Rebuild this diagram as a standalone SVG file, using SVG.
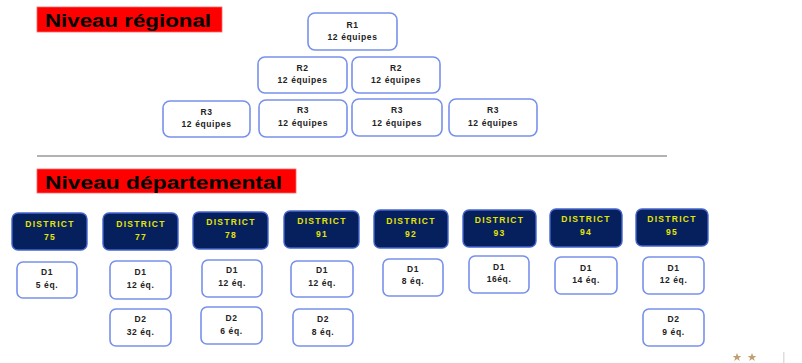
<svg xmlns="http://www.w3.org/2000/svg" width="802" height="363" viewBox="0 0 802 363">
<style>
.bg{fill:#ffffff}
.title{fill:#ff0000;stroke:#ff6666;stroke-width:0.8}
.tt{font-family:"Liberation Sans",Arial,sans-serif;font-weight:bold;font-size:18px;fill:#000}
.box{fill:#ffffff;stroke:#7791ea;stroke-width:1.6}
.dist{fill:#06205e;stroke:#4565cc;stroke-width:1.4}
.lbl{font-family:"Liberation Sans",Arial,sans-serif;font-weight:bold;font-size:8.5px;fill:#222;text-anchor:middle;letter-spacing:0.6px}
.dl{font-family:"Liberation Sans",Arial,sans-serif;font-weight:bold;font-size:8.5px;fill:#e6e600;text-anchor:middle;letter-spacing:1.3px}
.sep{stroke:#999;stroke-width:1.5}
.star{fill:#c0a070}
</style>
<rect class="bg" x="0" y="0" width="802" height="363"/>
<g id="title-regional">
<rect class="title" x="37" y="7" width="185" height="25"/>
<text class="tt" x="45" y="27" textLength="166" lengthAdjust="spacingAndGlyphs">Niveau régional</text>
</g>
<g id="R1"><rect class="box" x="308" y="13" width="89" height="37" rx="7"/><text class="lbl" x="352.5" y="28">R1</text><text class="lbl" x="352.5" y="40">12 équipes</text></g>
<g id="R2a"><rect class="box" x="258" y="57" width="89" height="36" rx="7"/><text class="lbl" x="302.5" y="71">R2</text><text class="lbl" x="302.5" y="83">12 équipes</text></g>
<g id="R2b"><rect class="box" x="352" y="57" width="88" height="36" rx="7"/><text class="lbl" x="396" y="71">R2</text><text class="lbl" x="396" y="83">12 équipes</text></g>
<g id="R3a"><rect class="box" x="163" y="101" width="87" height="36" rx="7"/><text class="lbl" x="206.5" y="115">R3</text><text class="lbl" x="206.5" y="127">12 équipes</text></g>
<g id="R3b"><rect class="box" x="259" y="100" width="88" height="37" rx="7"/><text class="lbl" x="303" y="113">R3</text><text class="lbl" x="303" y="126">12 équipes</text></g>
<g id="R3c"><rect class="box" x="352" y="99" width="90" height="37" rx="7"/><text class="lbl" x="397" y="113">R3</text><text class="lbl" x="397" y="126">12 équipes</text></g>
<g id="R3d"><rect class="box" x="449" y="99" width="88" height="37" rx="7"/><text class="lbl" x="493" y="113">R3</text><text class="lbl" x="493" y="126">12 équipes</text></g>
<line class="sep" x1="37" y1="156" x2="667" y2="156"/>
<g id="title-departemental">
<rect class="title" x="37" y="169" width="259" height="24"/>
<text class="tt" x="45" y="189" textLength="237" lengthAdjust="spacingAndGlyphs">Niveau départemental</text>
</g>
<g id="D75"><rect class="dist" x="12" y="213" width="75" height="37" rx="6"/><text class="dl" x="50" y="227">DISTRICT</text><text class="dl" x="50" y="240">75</text></g>
<g id="D77"><rect class="dist" x="103" y="213" width="75" height="37" rx="6"/><text class="dl" x="141" y="227">DISTRICT</text><text class="dl" x="141" y="240">77</text></g>
<g id="D78"><rect class="dist" x="193" y="212" width="75" height="37" rx="6"/><text class="dl" x="231" y="225">DISTRICT</text><text class="dl" x="231" y="238">78</text></g>
<g id="D91"><rect class="dist" x="284" y="211" width="75" height="37" rx="6"/><text class="dl" x="322" y="224">DISTRICT</text><text class="dl" x="322" y="237">91</text></g>
<g id="D92"><rect class="dist" x="374" y="210" width="74" height="38" rx="6"/><text class="dl" x="411" y="224">DISTRICT</text><text class="dl" x="411" y="237">92</text></g>
<g id="D93"><rect class="dist" x="463" y="210" width="73" height="37" rx="6"/><text class="dl" x="499.5" y="223">DISTRICT</text><text class="dl" x="499.5" y="236">93</text></g>
<g id="D94"><rect class="dist" x="550" y="209" width="72" height="38" rx="6"/><text class="dl" x="586" y="222">DISTRICT</text><text class="dl" x="586" y="235">94</text></g>
<g id="D95"><rect class="dist" x="636" y="209" width="72" height="37" rx="6"/><text class="dl" x="672" y="222">DISTRICT</text><text class="dl" x="672" y="235">95</text></g>
<g id="D75-D1"><rect class="box" x="17" y="262" width="60" height="36" rx="6"/><text class="lbl" x="47" y="275">D1</text><text class="lbl" x="47" y="288">5 éq.</text></g>
<g id="D77-D1"><rect class="box" x="110" y="261" width="61" height="38" rx="6"/><text class="lbl" x="140.5" y="275">D1</text><text class="lbl" x="140.5" y="288">12 éq.</text></g>
<g id="D78-D1"><rect class="box" x="202" y="260" width="60" height="37" rx="6"/><text class="lbl" x="232" y="273">D1</text><text class="lbl" x="232" y="286">12 éq.</text></g>
<g id="D91-D1"><rect class="box" x="291" y="261" width="62" height="36" rx="6"/><text class="lbl" x="322" y="273">D1</text><text class="lbl" x="322" y="286">12 éq.</text></g>
<g id="D92-D1"><rect class="box" x="383" y="259" width="60" height="37" rx="6"/><text class="lbl" x="413" y="272">D1</text><text class="lbl" x="413" y="284">8 éq.</text></g>
<g id="D93-D1"><rect class="box" x="469" y="256" width="60" height="37" rx="6"/><text class="lbl" x="499" y="270">D1</text><text class="lbl" x="499" y="282">16éq.</text></g>
<g id="D94-D1"><rect class="box" x="555" y="257" width="62" height="37" rx="6"/><text class="lbl" x="586" y="271">D1</text><text class="lbl" x="586" y="283">14 éq.</text></g>
<g id="D95-D1"><rect class="box" x="643" y="257" width="61" height="37" rx="6"/><text class="lbl" x="673.5" y="271">D1</text><text class="lbl" x="673.5" y="283">12 éq.</text></g>
<g id="D77-D2"><rect class="box" x="110" y="309" width="61" height="37" rx="6"/><text class="lbl" x="140.5" y="322">D2</text><text class="lbl" x="140.5" y="335">32 éq.</text></g>
<g id="D78-D2"><rect class="box" x="201" y="307" width="61" height="37" rx="6"/><text class="lbl" x="231.5" y="321">D2</text><text class="lbl" x="231.5" y="334">6 éq.</text></g>
<g id="D91-D2"><rect class="box" x="293" y="309" width="60" height="37" rx="6"/><text class="lbl" x="323" y="322">D2</text><text class="lbl" x="323" y="335">8 éq.</text></g>
<g id="D95-D2"><rect class="box" x="643" y="309" width="61" height="37" rx="6"/><text class="lbl" x="673.5" y="322">D2</text><text class="lbl" x="673.5" y="335">9 éq.</text></g>
<g id="logo">
<polygon class="star" points="737,353 738.2,356 741.3,356 738.8,357.9 739.8,361 737,359.1 734.2,361 735.2,357.9 732.7,356 735.8,356"/>
<polygon class="star" points="752,353 753.2,356 756.3,356 753.8,357.9 754.8,361 752,359.1 749.2,361 750.2,357.9 747.7,356 750.8,356"/>
<rect x="783" y="352" width="1.5" height="11" fill="#ddd"/>
</g>
<g id="connectors"></g>
</svg>
